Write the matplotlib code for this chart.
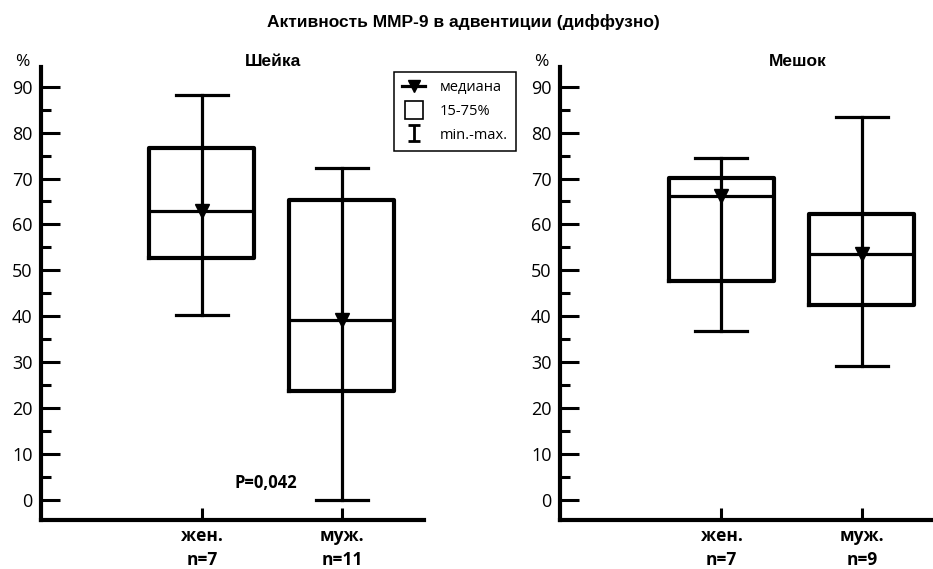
import matplotlib
matplotlib.use('Agg')
import matplotlib.pyplot as plt
from matplotlib.lines import Line2D
from matplotlib.path import Path

# data
groups = ['жен.', 'муж.']
neck_n = [7, 11]
sac_n = [7, 9]

neck_med = [63.0, 39.2]
neck_q1 = [52.7, 23.6]
neck_q3 = [76.6, 65.4]
neck_min = [40.2, 0.0]
neck_max = [88.1, 72.4]

sac_med = [66.2, 53.5]
sac_q1 = [47.7, 42.5]
sac_q3 = [70.1, 62.2]
sac_min = [36.7, 29.2]
sac_max = [74.4, 83.3]

p_text = 'P=0,042'

plt.rcParams['font.family'] = ['Open Sans', 'DejaVu Sans']

fig = plt.figure(figsize=(9.33, 5.69), dpi=100)
W, H = 933, 569
ax1 = fig.add_axes([41 / W, 49 / H, 383 / W, 453 / H])
ax2 = fig.add_axes([560 / W, 49 / H, 373 / W, 453 / H])


def draw_panel(ax, med, q1, q3, lo, hi, ns, title, title_x, xmax):
    pos = [1, 2]
    stats = []
    for i in range(len(groups)):
        stats.append(dict(med=med[i], q1=q1[i], q3=q3[i], whislo=lo[i], whishi=hi[i]))
    ax.bxp(stats, positions=pos, widths=0.75, capwidths=0.37, showfliers=False,
           boxprops=dict(lw=3.0, color='k'), whiskerprops=dict(lw=2.3, color='k'),
           capprops=dict(lw=2.3, color='k'), medianprops=dict(lw=2.3, color='k'),
           manage_ticks=False)
    # whisker line runs through the box too
    ax.vlines(pos, q1, q3, colors='k', lw=2.3)
    ax.plot(pos, med, ls='none', marker='v', color='k', markersize=10.5)

    ax.set_xlim(-0.15, xmax)
    ax.set_ylim(-4.4, 94.3)
    ax.set_yticks(range(0, 91, 10))
    ax.set_yticks(range(5, 90, 10), minor=True)
    ax.set_xticks(pos)
    ax.set_xticklabels([f'{g}\nn={n}' for g, n in zip(groups, ns)],
                       fontweight='bold', fontsize=12.5, linespacing=1.4)
    ax.tick_params(axis='y', which='major', direction='in', length=14, width=2.2,
                   labelsize=13, pad=6)
    ax.tick_params(axis='y', which='minor', direction='in', length=7, width=2.2)
    ax.tick_params(axis='x', direction='in', length=8.5, width=2.2, pad=5)
    for s in ['top', 'right']:
        ax.spines[s].set_visible(False)
    for s in ['left', 'bottom']:
        ax.spines[s].set_linewidth(3)
    ax.text(-0.05, 1.011, '%', transform=ax.transAxes, ha='center', va='center',
            fontsize=12.5)
    ax.text(title_x, 1.013, title, transform=ax.transAxes, ha='center', va='center',
            fontsize=12.5, fontweight='bold', family='Liberation Sans')


draw_panel(ax1, neck_med, neck_q1, neck_q3, neck_min, neck_max, neck_n, 'Шейка', 0.606, 2.586)
draw_panel(ax2, sac_med, sac_q1, sac_q3, sac_min, sac_max, sac_n, 'Мешок', 0.638, 2.507)

ax1.text(1.457, 3.7, p_text, ha='center', va='center', fontsize=12, fontweight='bold')

fig.text(0.497, 0.961, 'Активность ММР-9 в адвентиции (диффузно)', ha='center', va='center',
         fontsize=12.5, fontweight='bold', family='Liberation Sans')

# legend
ibeam = Path([(-0.65, -0.8), (0.65, -0.8), (0, -0.8), (0, 0.8), (-0.65, 0.8), (0.65, 0.8)],
             [Path.MOVETO, Path.LINETO, Path.MOVETO, Path.LINETO, Path.MOVETO, Path.LINETO])
handles = [
    Line2D([], [], color='k', lw=2.3, marker='v', markersize=9),
    Line2D([], [], ls='none', marker='s', markersize=13, markerfacecolor='white',
           markeredgecolor='k', markeredgewidth=1.2),
    Line2D([], [], ls='none', marker=ibeam, markersize=11, markerfacecolor='none',
           markeredgecolor='k', markeredgewidth=2),
]
leg = fig.legend(handles, ['медиана', '15-75%', 'min.-max.'], loc='upper left',
                 bbox_to_anchor=(394 / W, 1 - 72 / H), borderaxespad=0, fancybox=False,
                 edgecolor='k', framealpha=1, fontsize=10.5, handlelength=1.6,
                 handletextpad=1.0, labelspacing=0.6, borderpad=0.55)
leg.get_frame().set_linewidth(1.1)

fig.savefig('out.png', dpi=100)
